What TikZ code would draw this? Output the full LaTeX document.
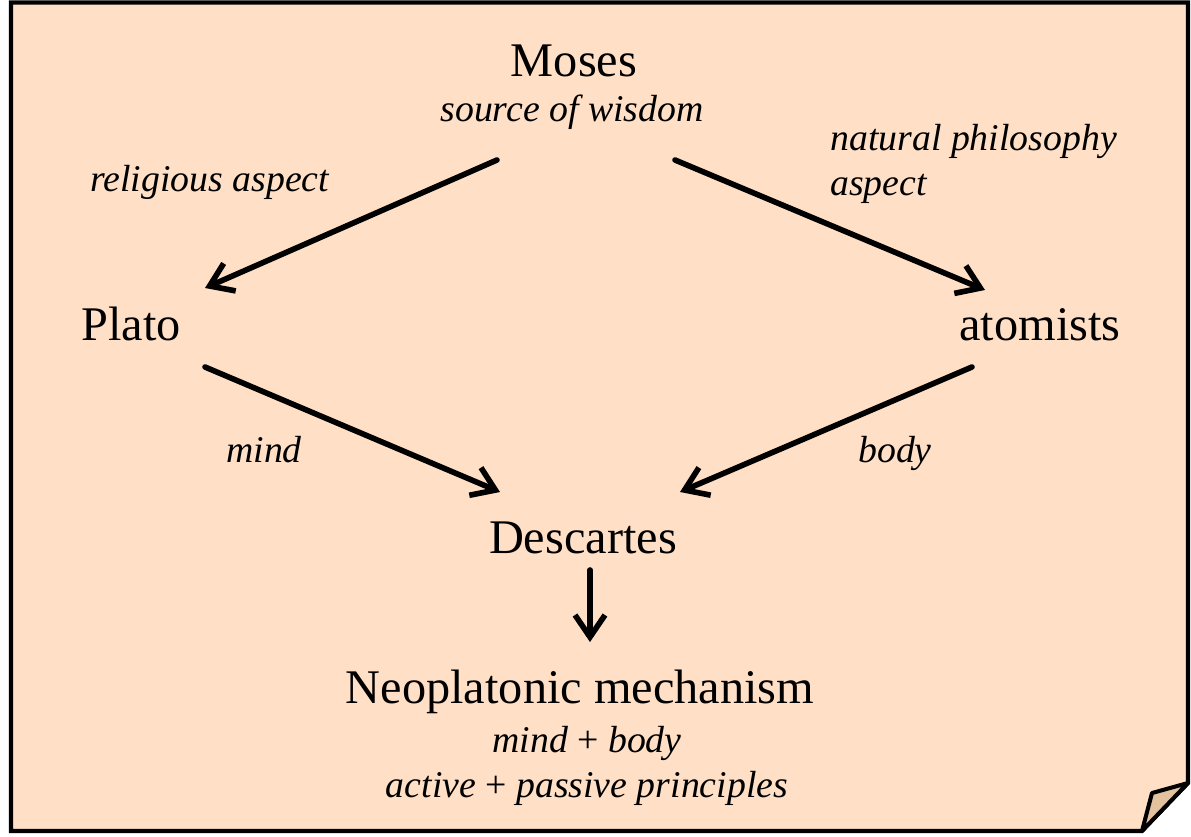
\documentclass[tikz,border=0pt]{standalone}
\usepackage{fontspec}
\setmainfont{Liberation Serif}
\usetikzlibrary{arrows.meta,calc}
\definecolor{paper}{RGB}{255,224,198}
\definecolor{flap}{RGB}{228,194,158}

\begin{document}
\begin{tikzpicture}[
    x=0.02cm, y=-0.02cm,
    person/.style={inner sep=0pt, anchor=base,
      font=\fontsize{27.5pt}{33pt}\selectfont},
    note/.style={inner sep=0pt, anchor=base,
      font=\fontsize{21.5pt}{25.6pt}\selectfont\itshape},
    arrow/.style={-{Straight Barb[length=4.4mm,width=6mm]},
      line width=3.2pt, line join=round, line cap=round}
  ]
    \useasboundingbox (0,0) rectangle (1191,836);

    % sheet with folded corner
    \draw[line width=2.3pt, fill=paper]
      (11,2.5) -- (1188,2.5) -- (1188,783) -- (1142,831) -- (11,831) -- cycle;
    \draw[line width=2.3pt, fill=flap, line join=round]
      (1188,783) -- (1152,793) -- (1142,831) -- cycle;

    \node[person] (moses)     at (574,76)  {Moses};
    \node[note] (wisdom)      at (572,121) {source of wisdom};
    \node[note, anchor=base west] (religious) at (90,191) {religious aspect};
    \node[note, anchor=base west, align=left] (natural) at (830,195)
      {natural philosophy\\aspect};
    \node[person] (plato)     at (131,340)  {Plato};
    \node[person] (atomists)  at (1040,340) {atomists};
    \node[note] (mind)        at (264,462)  {mind};
    \node[note] (body)        at (895,462)  {body};
    \node[person] (descartes) at (583,553)  {Descartes};
    \node[person] (neo)       at (580,703)  {Neoplatonic mechanism};
    \node[note, align=center] (principles) at (587,797)
      {mind \textup{+} body\\active \textup{+} passive principles};

    \draw[arrow] ($(wisdom.base)+(-75,39)$)   -- ($(plato.base)+(74,-52)$);
    \draw[arrow] ($(wisdom.base)+(103,39)$)   -- ($(atomists.base)+(-55,-50)$);
    \draw[arrow] ($(plato.base)+(74,27)$)     -- ($(descartes.base)+(-83,-61)$);
    \draw[arrow] ($(atomists.base)+(-68,27)$) -- ($(descartes.base)+(97,-61)$);
    \draw[arrow] ($(descartes.base)+(7,17)$)  -- ($(neo.base)+(10,-61)$);
  \end{tikzpicture}
\end{document}
